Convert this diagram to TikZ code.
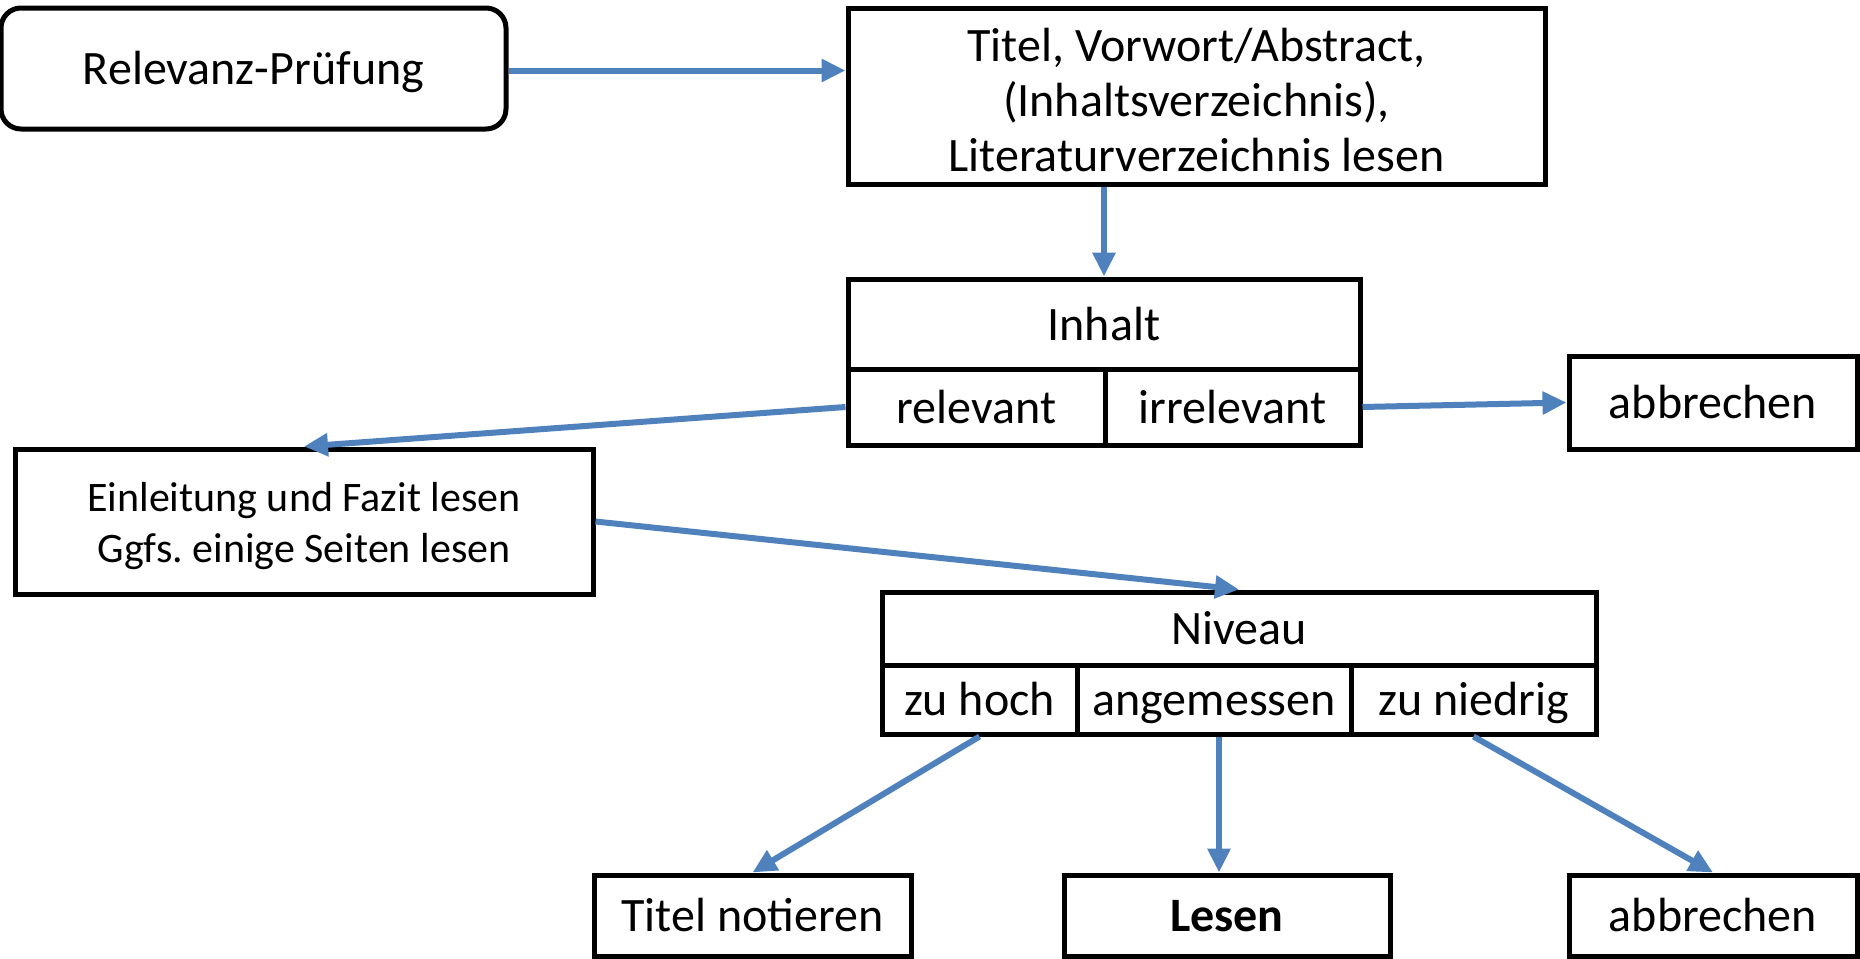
\documentclass[tikz,border=0pt]{standalone}
\usepackage{fontspec}
\setmainfont{Carlito}
\usepackage{tikz}
\usetikzlibrary{arrows.meta}
\definecolor{pfeilblau}{HTML}{4F81BD}

\begin{document}
\begin{tikzpicture}[x=0.5pt,y=-0.5pt,
  kasten/.style={draw,line width=2.5pt,inner sep=0pt,align=center,font=\fontsize{24}{27.5}\selectfont},
  einzeilig/.style={kasten,text height=19pt,text depth=3pt},
  zelle/.style={einzeilig,minimum height=34.5pt},
  pfeil/.style={draw=pfeilblau,line width=3pt,-{Triangle[length=12pt,width=11pt]}}]
\useasboundingbox (0,0) rectangle (1860,959);

\node[einzeilig,rounded corners=10pt,minimum width=252.5pt,minimum height=60.5pt] (pruefung) at (253.5,68.5) {Relevanz-Prüfung};
\node[kasten,minimum width=348.5pt,minimum height=88pt] (titel) at (1196.5,96) {\rule{0pt}{21pt}Titel, Vorwort/Abstract,\\(Inhaltsverzeichnis),\\Literaturverzeichnis lesen};

\node[einzeilig,minimum width=256pt,minimum height=45pt] (inhalt) at (1104,324) {Inhalt};
\node[einzeilig,minimum width=128.5pt,minimum height=38pt] (relevant) at (976.5,407) {relevant};
\node[einzeilig,minimum width=127.5pt,minimum height=38pt] (irrelevant) at (1232.5,407) {irrelevant};
\node[einzeilig,minimum width=144pt,minimum height=46.5pt] (abbruchA) at (1713,402.5) {abbrechen};

\node[kasten,minimum width=289pt,minimum height=72.5pt,font=\fontsize{21}{25.5}\selectfont] (einleitung) at (304,521.5) {\rule{0pt}{19pt}Einleitung und Fazit lesen\\Ggfs.\ einige Seiten lesen};

\node[einzeilig,minimum width=357pt,minimum height=36.5pt] (niveau) at (1239,628.5) {Niveau};
\node[zelle,minimum width=97.5pt] (zuhoch) at (979.5,699.5) {zu hoch};
\node[zelle,minimum width=137pt] (angemessen) at (1214,699.5) {angemessen};
\node[zelle,minimum width=122.5pt] (zuniedrig) at (1473.5,699.5) {zu niedrig};

\node[einzeilig,minimum width=158.5pt,minimum height=40.5pt] (notieren) at (752.5,915.5) {Titel notieren};
\node[einzeilig,minimum width=163pt,minimum height=40.5pt] (lesen) at (1227,915.5) {\textbf{Lesen}};
\node[einzeilig,minimum width=144pt,minimum height=40.5pt] (abbruchB) at (1713,915.5) {abbrechen};

\draw[pfeil] ([yshift=-1pt]pruefung.east) -- ([yshift=-1pt]pruefung.east -| titel.west);
\draw[pfeil] (inhalt.north |- titel.south) -- (inhalt.north);
\draw[pfeil] (relevant.west) -- (einleitung.north);
\draw[pfeil] (irrelevant.east) -- (abbruchA.west);
\draw[pfeil] (einleitung.east) -- (niveau.north);
\draw[pfeil] (zuhoch.south) -- (notieren.north);
\draw[pfeil] ([xshift=2.5pt]angemessen.south) -- ([xshift=2.5pt]angemessen.south |- lesen.north);
\draw[pfeil] (zuniedrig.south) -- (abbruchB.north);
\end{tikzpicture}
\end{document}
